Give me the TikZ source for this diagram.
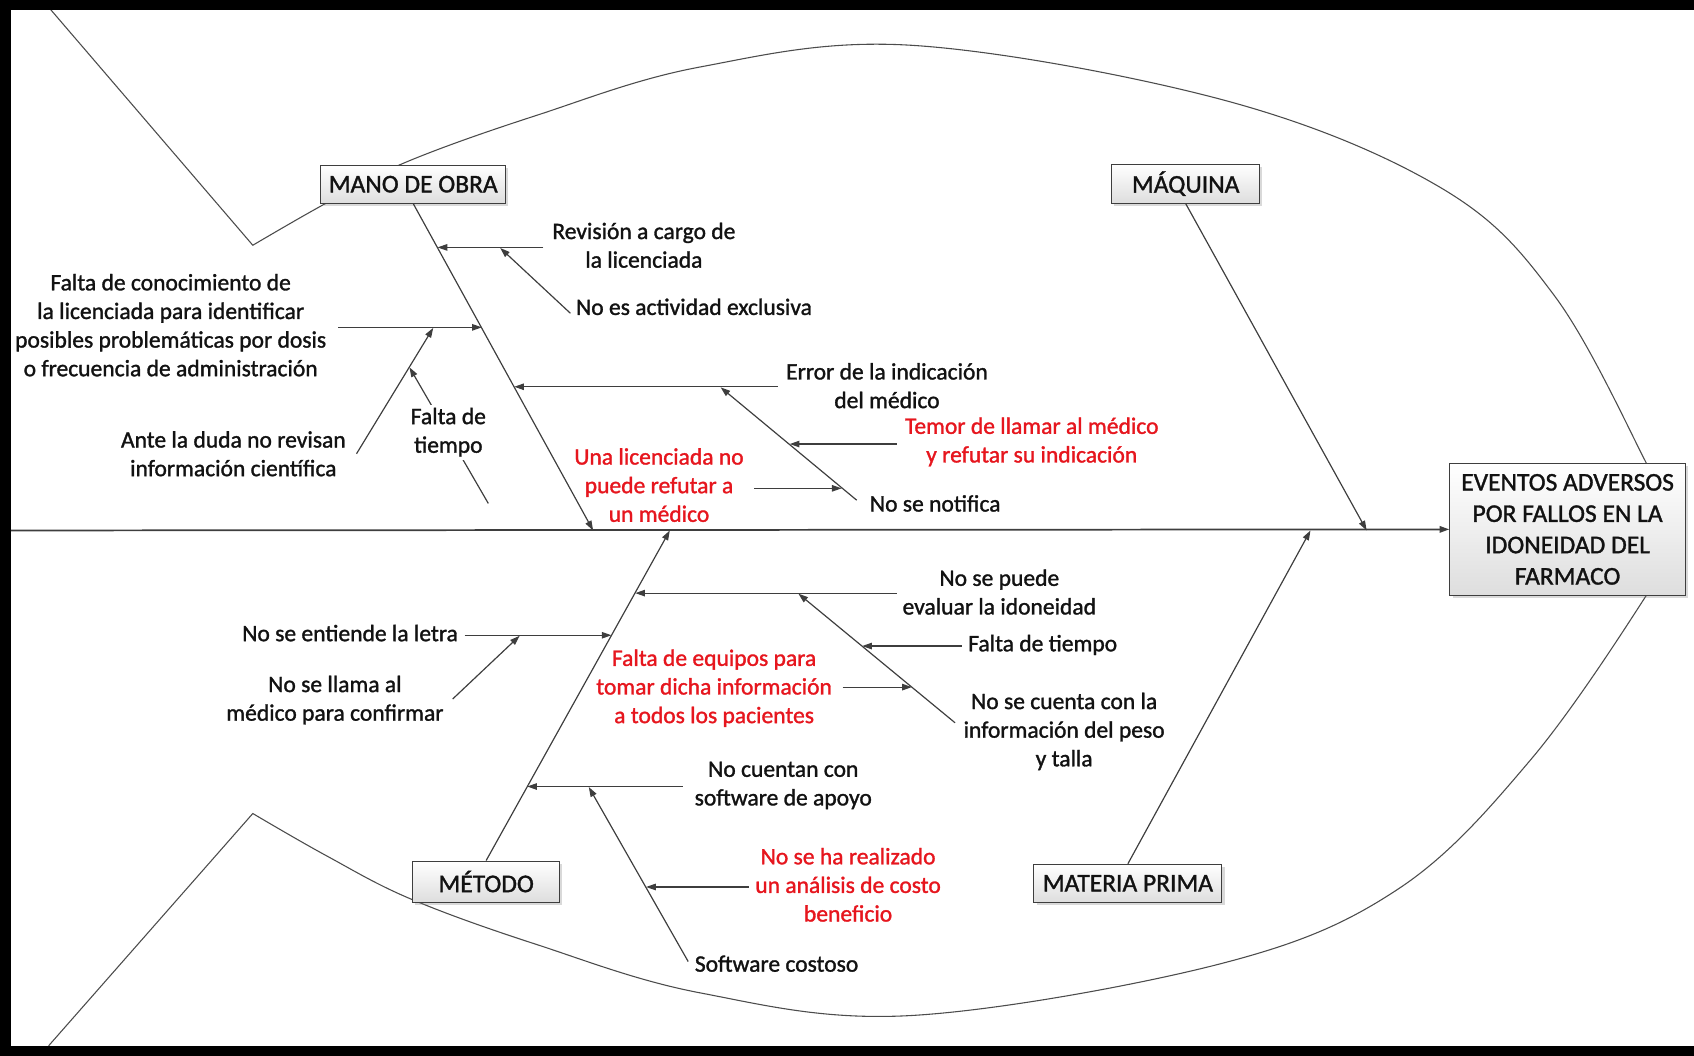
\documentclass[tikz,border=0pt]{standalone}
\usepackage{fontspec}
\setmainfont{Carlito}[FakeBold=1.3]
\usetikzlibrary{arrows.meta,shadows}
\pgfdeclarelayer{bg}
\pgfsetlayers{bg,main}
\definecolor{linegray}{RGB}{62,62,62}
\definecolor{causered}{RGB}{230,22,30}
\definecolor{inkblack}{RGB}{18,18,18}

\begin{document}
\begin{tikzpicture}[x=1pt,y=-1pt,
  every node/.style={font=\fontsize{21.8}{26.5}\selectfont, text=inkblack, inner sep=0pt},
  txt/.style={align=center},
  redtxt/.style={align=center, text=causered},
  catbox/.style={draw=linegray, line width=1pt, top color=white, bottom color=black!13,
    drop shadow={shadow xshift=2.5pt, shadow yshift=-2.5pt, opacity=0.3},
    minimum height=35pt, font=\fontsize{23.6}{29}\selectfont},
  arr/.style={draw=linegray, line width=1.1pt, -{Triangle[length=9pt,width=6pt]}},
  outline/.style={draw=black!70, line width=1pt},
]
\useasboundingbox (0,0) rectangle (1568,977);

% frame bands
\fill[black] (0,0) rectangle (10,977);
\fill[black] (0,0) rectangle (1568,9);
\fill[black] (0,968) rectangle (1568,977);

% fish body
\begin{pgfonlayer}{bg}
\draw[outline] (47,9) -- plot[smooth, tension=0.6] coordinates {(234,227) (302,188) (376,150) (496,107) (648,62) (845,42) (1134,93) (1334,174) (1439,274) (1523,427) (1535,460)};
\draw[outline] (45,968) -- plot[smooth, tension=0.6] coordinates {(234,753) (302,792) (380,832) (496,874) (648,919) (843,940) (1130,892) (1294,823) (1417,703) (1522,554) (1532,525)};
\end{pgfonlayer}

% effect and categories
\node[catbox, minimum width=218pt, minimum height=122pt, align=center] (eff) at (1451,490)
  {EVENTOS ADVERSOS\\POR FALLOS EN LA\\IDONEIDAD DEL\\FARMACO};
\node[catbox, minimum width=171pt] (mano) at (382.5,170.5) {MANO DE OBRA};
\node[catbox, minimum width=137pt, minimum height=36pt] (maq) at (1097.5,170) {MÁQUINA};
\node[catbox, minimum width=136pt, minimum height=38pt] (met) at (450,816) {MÉTODO};
\node[catbox, minimum width=174pt] (mat) at (1044,817.5) {MATERIA PRIMA};

% spine and junctions
\coordinate (spL) at (10,491);
\coordinate (jMano) at (549,491);
\coordinate (jMet) at (620,491);
\coordinate (jMat) at (1213,491);
\coordinate (jMaq) at (1265,491);
\draw[arr, line width=1.6pt] (spL) -- (eff.west);
\draw[arr] (mano.south) -- (jMano);
\draw[arr] (maq.south) -- (jMaq);
\draw[arr] (met.north) -- (jMet);
\draw[arr] (mat.north) -- (jMat);

% MANO DE OBRA causes
\coordinate (revA) at (503,229);  \coordinate (revB) at (405,229);
\coordinate (noesA) at (528,290); \coordinate (noesB) at (463,229.5);
\coordinate (conA) at (313,303);  \coordinate (conB) at (446,303);
\coordinate (anteA) at (330,420); \coordinate (anteB) at (401,303.5);
\coordinate (tieA) at (452,466);  \coordinate (tieB) at (379,340);
\coordinate (errA) at (720,358);  \coordinate (errB) at (476,358);
\coordinate (notA) at (793,463);  \coordinate (notB) at (667,358.5);
\coordinate (temA) at (830,411);  \coordinate (temB) at (731,411);
\coordinate (unaA) at (698,452);  \coordinate (unaB) at (779,452);
\draw[arr] (revA) -- (revB);
\draw[arr] (noesA) -- (noesB);
\draw[arr] (conA) -- (conB);
\draw[arr] (anteA) -- (anteB);
\draw[arr] (tieA) -- (tieB);
\draw[arr] (errA) -- (errB);
\draw[arr] (notA) -- (notB);
\draw[arr] (temA) -- (temB);
\draw[arr] (unaA) -- (unaB);

\node[txt] (rev) at (596,227) {Revisión a cargo de\\la licenciada};
\node[anchor=west] (noes) at (533,284) {No es actividad exclusiva};
\node[txt] (con) at (158,301) {Falta de conocimiento de\\la licenciada para identificar\\posibles problemáticas por dosis\\o frecuencia de administración};
\node[txt] (ante) at (216,420) {Ante la duda no revisan\\información científica};
\node[txt, fill=white, inner sep=3pt] (tie) at (415,400) {Falta de\\tiempo};
\node[txt] (err) at (821,357) {Error de la indicación\\del médico};
\node[redtxt] (tem) at (955,409) {Temor de llamar al médico\\y refutar su indicación};
\node[anchor=west] (notif) at (805,466) {No se notifica};
\node[redtxt] (una) at (610,449) {Una licenciada no\\puede refutar a\\un médico};

% MÉTODO causes
\coordinate (puA) at (830,549);   \coordinate (puB) at (588,549);
\coordinate (cuA) at (884,669);   \coordinate (cuB) at (739,549.5);
\coordinate (ftA) at (890,598);   \coordinate (ftB) at (798,598);
\coordinate (eqA) at (780,636);   \coordinate (eqB) at (844,636);
\coordinate (entA) at (430,588);  \coordinate (entB) at (566,588);
\coordinate (llA) at (419,647);   \coordinate (llB) at (481,588.5);
\coordinate (ctnA) at (632,728);  \coordinate (ctnB) at (488,728);
\coordinate (cosA) at (637,890);  \coordinate (cosB) at (545,728.5);
\coordinate (reaA) at (693,821);  \coordinate (reaB) at (598,821);
\draw[arr] (puA) -- (puB);
\draw[arr] (cuA) -- (cuB);
\draw[arr] (ftA) -- (ftB);
\draw[arr] (eqA) -- (eqB);
\draw[arr] (entA) -- (entB);
\draw[arr] (llA) -- (llB);
\draw[arr] (ctnA) -- (ctnB);
\draw[arr] (cosA) -- (cosB);
\draw[arr] (reaA) -- (reaB);

\node[txt] (pu) at (925,548) {No se puede\\evaluar la idoneidad};
\node[anchor=west] (ft) at (896,597) {Falta de tiempo};
\node[txt] (cu) at (985,677) {No se cuenta con la\\información del peso\\y talla};
\node[redtxt] (eq) at (661,637) {Falta de equipos para\\tomar dicha información\\a todos los pacientes};
\node[anchor=east] (ent) at (424,586) {No se entiende la letra};
\node[txt] (ll) at (310,648) {No se llama al\\médico para confirmar};
\node[txt] (ctn) at (725,727) {No cuentan con\\software de apoyo};
\node[redtxt] (rea) at (785,819) {No se ha realizado\\un análisis de costo\\beneficio};
\node[anchor=west] (cos) at (643,892) {Software costoso};
\end{tikzpicture}
\end{document}
